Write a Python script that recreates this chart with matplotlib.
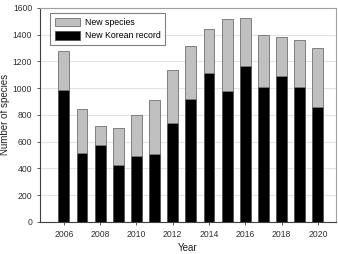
import numpy as np
import matplotlib
matplotlib.use("Agg")
import matplotlib.pyplot as plt

plt.rcParams['font.family'] = ['Liberation Sans', 'DejaVu Sans']

years = np.arange(2006, 2021)
total_species = [1275, 847, 717, 705, 800, 912, 1135, 1317, 1445, 1518, 1522, 1398, 1382, 1357, 1300]
korean_record = [990, 517, 572, 427, 492, 507, 736, 922, 1112, 980, 1162, 1010, 1092, 1010, 862]
new_species = [t - k for t, k in zip(total_species, korean_record)]

fig = plt.figure(figsize=(3.38, 2.54), dpi=100)
ax = fig.add_axes([0.118, 0.126, 0.876, 0.843])

ax.bar(years, korean_record, width=0.6, color='black', edgecolor='#505050',
       linewidth=0.6, label='New Korean record', zorder=3)
ax.bar(years, new_species, width=0.6, bottom=korean_record, color='#c0c0c0',
       edgecolor='#707070', linewidth=0.6, label='New species', zorder=3)

ax.set_xlim(2004.68, 2021.0)
ax.set_ylim(0, 1600)
ax.set_xticks(np.arange(2006, 2021, 2))
ax.set_yticks(np.arange(0, 1601, 200))
ax.yaxis.grid(True, color='#e4e4e4', linewidth=0.8, zorder=0)
ax.tick_params(labelsize=6.2, length=2, width=0.6, color='#404040', labelcolor='#303030')

for side in ['top', 'right']:
    ax.spines[side].set_color('#a0a0a0')
for side in ['left', 'bottom']:
    ax.spines[side].set_color('#404040')
for s in ax.spines.values():
    s.set_linewidth(0.8)

ax.set_ylabel('Number of species', fontsize=7, color='#202020', labelpad=2)
ax.set_xlabel('Year', fontsize=7, color='#202020', labelpad=3)

handles, labels = ax.get_legend_handles_labels()
leg = ax.legend(handles[::-1], labels[::-1], loc='upper left', fontsize=6.3,
                frameon=True, fancybox=False, edgecolor='#606060',
                bbox_to_anchor=(0.034, 0.975), borderaxespad=0,
                handlelength=2.9, handleheight=1.1, handletextpad=0.5,
                borderpad=0.55, labelspacing=0.45)
leg.get_frame().set_linewidth(0.8)

fig.savefig('out.png', dpi=100)
